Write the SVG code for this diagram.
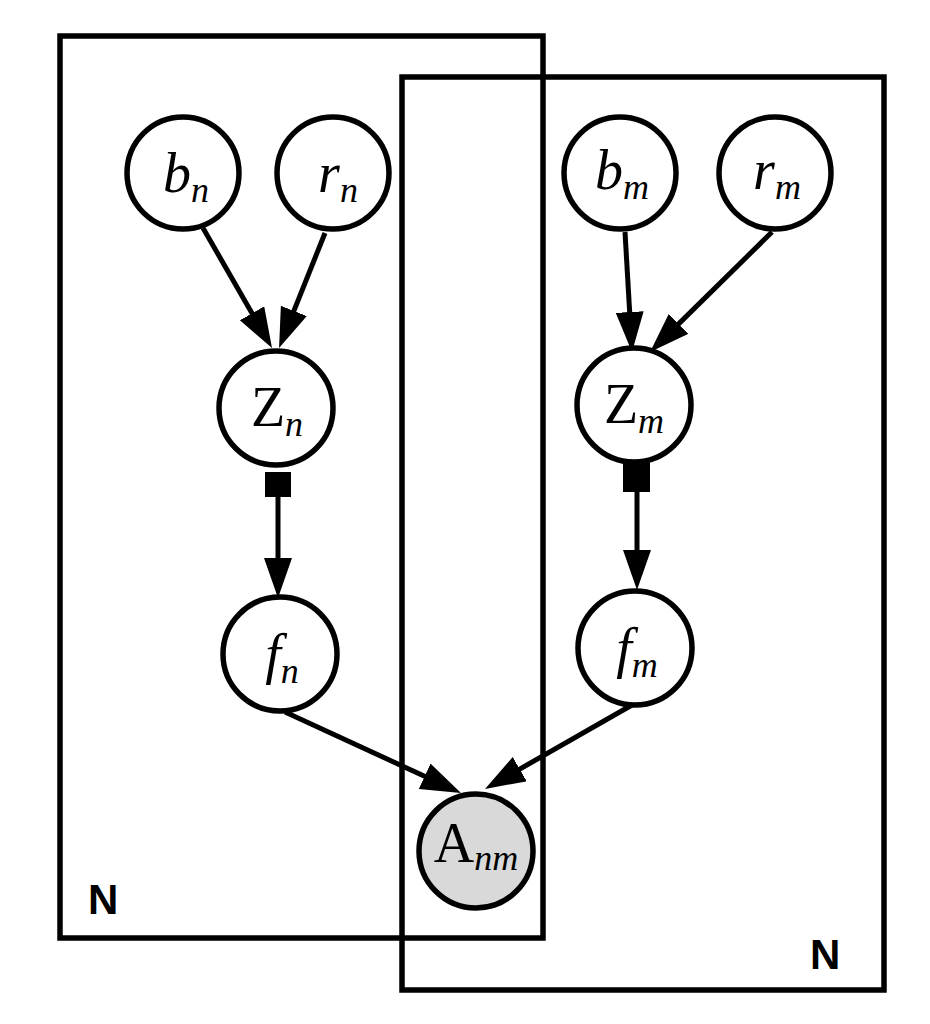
<svg xmlns="http://www.w3.org/2000/svg" width="930" height="1024" viewBox="0 0 930 1024">
<style>
.plate{fill:none;stroke:#000;stroke-width:5.5}
.node{fill:#fff;stroke:#000;stroke-width:5.5}
.obs{fill:#d9d9d9;stroke:#000;stroke-width:5.5}
.edge{stroke:#000;stroke-width:5;fill:none;marker-end:url(#arr)}
.lbl{font-family:"Liberation Serif","Times New Roman",serif;font-size:56px;fill:#000;text-anchor:middle}
.it{font-style:italic}
.sub{font-style:italic;font-size:36px}
.plbl{font-family:"Liberation Sans",Arial,sans-serif;font-weight:bold;font-size:42px;fill:#000}
</style>
<defs>
<marker id="arr" markerUnits="userSpaceOnUse" markerWidth="42" markerHeight="30" refX="28" refY="14" orient="auto">
<path d="M0,0 L40,14 L0,28 z" fill="#000"/>
</marker>
</defs>
<rect width="930" height="1024" fill="#fff"/>
<g id="plate-n">
<rect class="plate" x="60" y="36" width="483" height="902"/>
<text class="plbl" x="88" y="914">N</text>
</g>
<g id="plate-m">
<rect class="plate" x="402" y="77" width="482" height="913"/>
<text class="plbl" x="810" y="969">N</text>
</g>
<g id="connectors">
<line class="edge" x1="203" y1="228" x2="266" y2="337.6"/>
<line class="edge" x1="325" y1="233" x2="283.5" y2="336.9"/>
<line class="edge" x1="625" y1="232" x2="631.3" y2="340"/>
<line class="edge" x1="772" y1="232" x2="658.6" y2="343.6"/>
<rect x="265" y="472" width="26" height="25" fill="#000"/>
<line class="edge" x1="278" y1="497" x2="278" y2="586"/>
<rect x="623" y="463" width="27" height="29" fill="#000"/>
<line class="edge" x1="637" y1="492" x2="637" y2="578"/>
<line class="edge" x1="285" y1="712" x2="450.1" y2="788"/>
<line class="edge" x1="632" y1="705" x2="495.4" y2="783"/>
</g>
<g id="b_n">
<circle class="node" cx="183" cy="173" r="56"/>
<text class="lbl" x="186" y="192"><tspan class="it">b</tspan><tspan class="sub" dy="10">n</tspan></text>
</g>
<g id="r_n">
<circle class="node" cx="333" cy="173" r="56"/>
<text class="lbl" x="338" y="192"><tspan class="it">r</tspan><tspan class="sub" dy="10">n</tspan></text>
</g>
<g id="b_m">
<circle class="node" cx="620" cy="173" r="56"/>
<text class="lbl" x="622" y="189"><tspan class="it">b</tspan><tspan class="sub" dy="10">m</tspan></text>
</g>
<g id="r_m">
<circle class="node" cx="775" cy="173" r="56"/>
<text class="lbl" x="777" y="189"><tspan class="it">r</tspan><tspan class="sub" dy="10">m</tspan></text>
</g>
<g id="Z_n">
<circle class="node" cx="276" cy="408" r="57"/>
<text class="lbl" x="277" y="426">Z<tspan class="sub" dy="10">n</tspan></text>
</g>
<g id="Z_m">
<circle class="node" cx="634" cy="405" r="57"/>
<text class="lbl" x="634" y="423">Z<tspan class="sub" dy="10">m</tspan></text>
</g>
<g id="f_n">
<circle class="node" cx="280" cy="654" r="57"/>
<text class="lbl" x="282" y="673"><tspan class="it">f</tspan><tspan class="sub" dy="10">n</tspan></text>
</g>
<g id="f_m">
<circle class="node" cx="635" cy="648" r="57"/>
<text class="lbl" x="637" y="667"><tspan class="it">f</tspan><tspan class="sub" dy="10">m</tspan></text>
</g>
<g id="A_nm">
<circle class="obs" cx="476" cy="851" r="57"/>
<text class="lbl" x="476" y="862">A<tspan class="sub" dy="8">nm</tspan></text>
</g>
</svg>
